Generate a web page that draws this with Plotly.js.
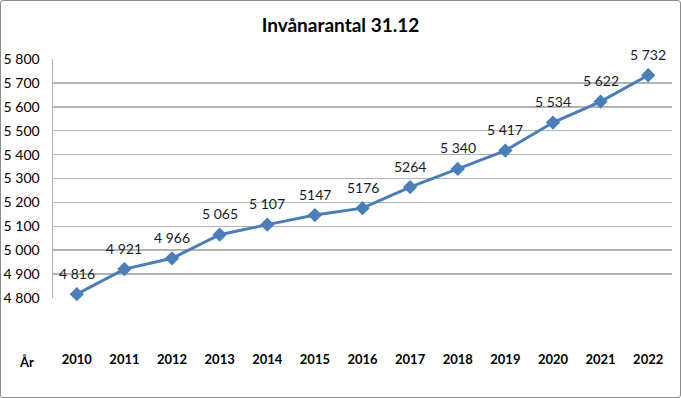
<!DOCTYPE html>
<html>
<head>
<meta charset="utf-8">
<script src="https://cdn.plot.ly/plotly-3.0.1.min.js"></script>
<style>
html,body{margin:0;padding:0;background:#fff;}
#wrap{position:relative;width:681px;height:398px;}
#chart{width:681px;height:398px;}
#frame{position:absolute;left:0;top:0;width:681px;height:398px;box-sizing:border-box;border:1.5px solid #8c8c8c;border-radius:3px;pointer-events:none;}
</style>
</head>
<body>
<div id="wrap"><div id="chart"></div><div id="frame"></div></div>
<script>
const years = ["2010","2011","2012","2013","2014","2015","2016","2017","2018","2019","2020","2021","2022"];
const population = [4816,4921,4966,5065,5107,5147,5176,5264,5340,5417,5534,5622,5732];
const pointLabels = ["4 816","4 921","4 966","5 065","5 107","5147","5176","5264","5 340","5 417","5 534","5 622","5 732"];
const yTicks = [4800,4900,5000,5100,5200,5300,5400,5500,5600,5700,5800];
const yTickLabels = ["4 800","4 900","5 000","5 100","5 200","5 300","5 400","5 500","5 600","5 700","5 800"];

const FONT = "Lato, 'Open Sans', sans-serif";

const labelAnnotations = years.map((yr, i) => ({
  x: i, y: population[i], xref: "x", yref: "y",
  text: pointLabels[i],
  showarrow: false,
  yshift: 21,
  xanchor: "center", yanchor: "middle",
  font: {family: FONT, size: 14, color: "#1a1a1a"}
}));

Plotly.newPlot("chart", [{
  type: "scatter",
  mode: "lines+markers",
  x: years,
  y: population,
  line: {color: "#4a7ebb", width: 3},
  marker: {symbol: "diamond", size: 11, color: "#4a7ebb"},
  cliponaxis: false,
  hoverinfo: "none"
}], {
  width: 681, height: 398,
  margin: {l: 53, r: 9, t: 59, b: 100},
  paper_bgcolor: "#fff", plot_bgcolor: "#fff",
  showlegend: false,
  font: {family: FONT, color: "#000"},
  title: {text: "<b>Invånarantal 31.12</b>", font: {family: FONT, size: 19, color: "#000"}, x: 0.5, xanchor: "center", y: 0.937, yanchor: "middle"},
  xaxis: {
    type: "category",
    range: [-0.5, 12.5],
    showgrid: false, zeroline: false, showline: false,
    ticks: "",
    tickfont: {family: FONT, size: 13, color: "#000", weight: "bold"},
    ticklabelstandoff: 52
  },
  yaxis: {
    range: [4800, 5800],
    tickvals: yTicks,
    ticktext: yTickLabels,
    showgrid: true, gridcolor: "#b3b3b3", gridwidth: 1.5,
    zeroline: false,
    showline: true, linecolor: "#b3b3b3", linewidth: 1.5,
    ticks: "",
    tickfont: {family: FONT, size: 14, color: "#000"},
    ticklabelstandoff: 9
  },
  annotations: labelAnnotations.concat([{
    text: "<b>År</b>",
    xref: "paper", yref: "paper",
    x: -0.043, y: -0.268,
    xanchor: "center", yanchor: "middle",
    showarrow: false,
    font: {family: FONT, size: 13, color: "#000"}
  }])
}, {staticPlot: true});
</script>
</body>
</html>
